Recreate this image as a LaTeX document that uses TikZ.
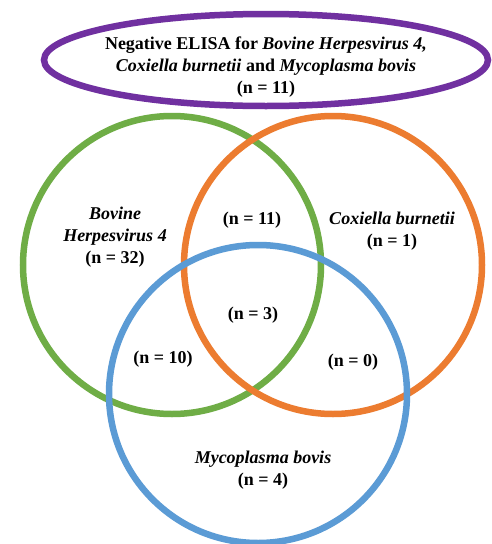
\documentclass[tikz,border=0pt]{standalone}
\usepackage{fontspec}
\setmainfont{Liberation Serif}
\begin{document}
\begin{tikzpicture}[x=1pt,y=-1pt,
  lbl/.style={font=\fontsize{18}{22}\selectfont\bfseries, align=center, inner sep=0pt},
  ring/.style={line width=6.5pt}]
\definecolor{cgreen}{HTML}{6FAD46}
\definecolor{corange}{HTML}{EC7C30}
\definecolor{cblue}{HTML}{5B9BD5}
\definecolor{cpurple}{HTML}{7030A0}
\useasboundingbox[fill=white] (0,0) rectangle (492,544);
\draw[ring, cpurple] (266,60) ellipse [x radius=222, y radius=46];
\draw[ring, cgreen] (172,265) circle [radius=149];
\draw[ring, corange] (333,265) circle [radius=149];
\draw[ring, cblue] (258,394) circle [radius=149];
\node[lbl] (title) at (266,67) {Negative ELISA for \textit{Bovine Herpesvirus 4,}\\ \textit{Coxiella burnetii} and \textit{Mycoplasma bovis}\\ (n = 11)};
\node[lbl] (bhv) at (115,237) {\textit{Bovine}\\ \textit{Herpesvirus 4}\\ (n = 32)};
\node[lbl] (bc) at (252,220) {(n = 11)};
\node[lbl] (cb) at (392,231) {\textit{Coxiella burnetii}\\ (n = 1)};
\node[lbl] (all) at (253,315) {(n = 3)};
\node[lbl] (bm) at (163,359) {(n = 10)};
\node[lbl] (cm) at (353,362) {(n = 0)};
\node[lbl] (mb) at (263,470) {\textit{Mycoplasma bovis}\\ (n = 4)};
\end{tikzpicture}
\end{document}
